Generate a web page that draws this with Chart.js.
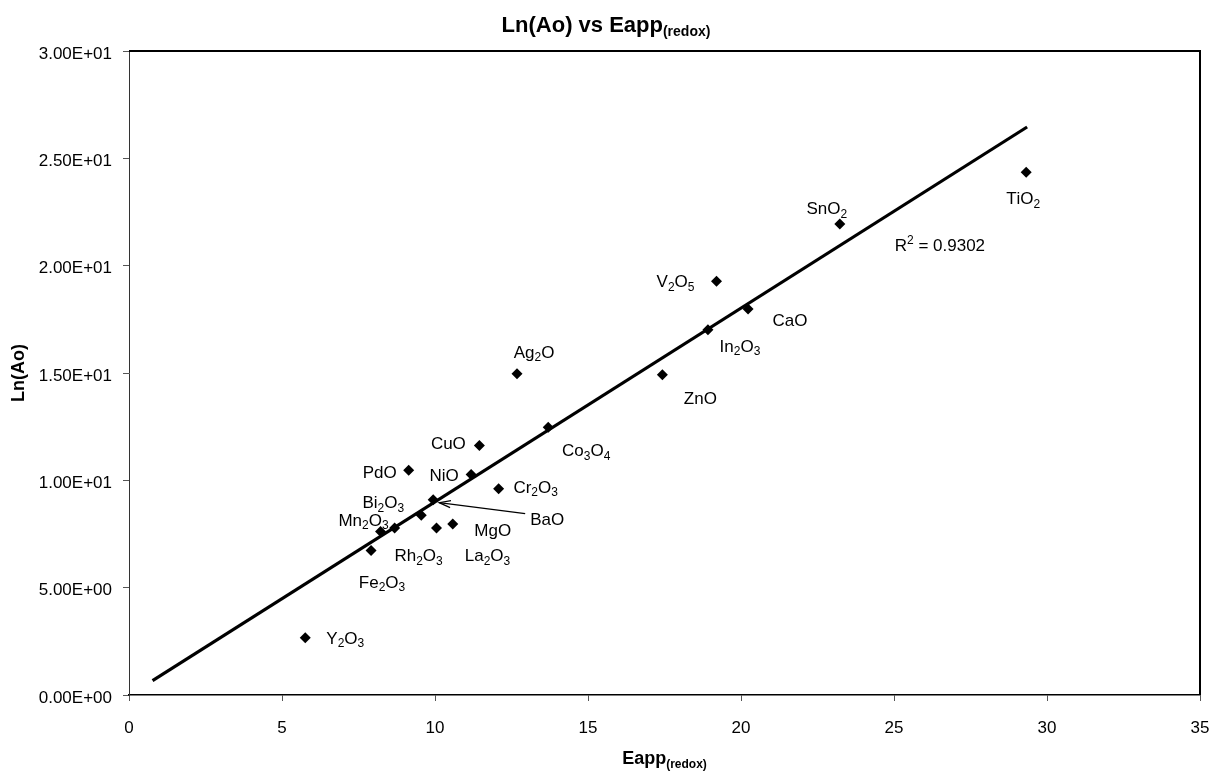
<!DOCTYPE html>
<html>
<head>
<meta charset="utf-8">
<script src="https://cdn.jsdelivr.net/npm/chart.js@4"></script>
<style>
  html, body { margin: 0; padding: 0; background: #fff; }
  #wrap { width: 1223px; height: 775px; }
</style>
</head>
<body>
<div id="wrap"><canvas id="chart" width="1223" height="775"></canvas></div>
<script>
// oxide names: "_" marks the next character as a subscript
const oxides = ['Y_2O_3','Fe_2O_3','Mn_2O_3','Rh_2O_3','Bi_2O_3','BaO','PdO','NiO','CuO','Cr_2O_3',
                'La_2O_3','MgO','Co_3O_4','Ag_2O','ZnO','In_2O_3','CaO','V_2O_5','SnO_2','TiO_2'];
const eapp = [5.76, 7.91, 8.22, 8.68, 9.55, 9.94, 9.14, 11.18, 11.45, 12.08,
              10.05, 10.58, 13.70, 12.68, 17.43, 18.92, 20.23, 19.20, 23.23, 29.32];
const lnAo = [2.67, 6.73, 7.62, 7.78, 8.37, 9.10, 10.47, 10.27, 11.62, 9.61,
              7.78, 7.97, 12.47, 14.97, 14.92, 17.02, 17.98, 19.27, 21.94, 24.35];
// linear trend line end points
const trendX = [0.77, 29.35];
const trendY = [0.67, 26.46];
const rSquared = '0.9302';

// where each label sits relative to its point (px)
const labelOffsets = [[40,0],[11,31],[-17,-12],[24,27],[-38,-13],[114,19],[-29,2],[-27,0],[-31,-3],[37,-2],
                      [51,27],[40,6],[38,23],[17,-22],[38,23],[32,16],[42,11],[-41,0],[-13,-16],[-3,26]];

const FONT = '"Liberation Sans", Arial, sans-serif';

function sci(v){
  const [m,e] = Number(v).toExponential(2).split('e');
  const n = parseInt(e,10);
  return m + 'E' + (n<0?'-':'+') + String(Math.abs(n)).padStart(2,'0');
}

// draw text with _x subscripts and ^x superscripts, centred on cx, middle at cy
function richText(ctx, str, cx, cy, size, bold, subSize){
  const parts = [];
  for(let i=0;i<str.length;i++){
    const c = str[i];
    if((c==='_'||c==='^') && i+1<str.length){ parts.push({t:str[i+1], k:c}); i++; }
    else parts.push({t:c, k:''});
  }
  const w = bold ? 'bold ' : '';
  const small = subSize || Math.round(size*0.68);
  let total = 0;
  parts.forEach(p=>{
    ctx.font = w + (p.k ? small : size) + 'px ' + FONT;
    p.w = ctx.measureText(p.t).width; total += p.w;
  });
  let x = cx - total/2;
  ctx.textAlign = 'left';
  ctx.textBaseline = 'alphabetic';
  const base = cy + size*0.36;
  parts.forEach(p=>{
    ctx.font = w + (p.k ? small : size) + 'px ' + FONT;
    let y = base;
    if(p.k==='_') y = base + size*0.2;
    if(p.k==='^') y = base - size*0.42;
    ctx.fillText(p.t, x, y);
    x += p.w;
  });
  return total;
}

const decorations = {
  id:'decorations',
  afterDraw(chart){
    const {ctx, chartArea:a, scales:{x, y}} = chart;
    ctx.save();
    ctx.fillStyle = '#000';
    // frame top and right
    ctx.strokeStyle = '#000'; ctx.lineWidth = 2;
    ctx.beginPath(); ctx.moveTo(a.left, a.top); ctx.lineTo(a.right, a.top); ctx.lineTo(a.right, a.bottom); ctx.stroke();
    // point labels
    oxides.forEach((name,i)=>{
      const px = x.getPixelForValue(eapp[i]), py = y.getPixelForValue(lnAo[i]);
      richText(ctx, name, px + labelOffsets[i][0], py + labelOffsets[i][1], 17, false);
    });
    // arrow to BaO
    const bi = oxides.indexOf('BaO');
    const bx = x.getPixelForValue(eapp[bi]), by = y.getPixelForValue(lnAo[bi]);
    const sx = bx + 92, sy = by + 14, tx = bx + 6, ty = by + 3;
    ctx.lineWidth = 1.2;
    ctx.beginPath(); ctx.moveTo(sx, sy); ctx.lineTo(tx, ty); ctx.stroke();
    const ang = Math.atan2(ty-sy, tx-sx);
    ctx.beginPath();
    ctx.moveTo(tx - 12*Math.cos(ang-0.3), ty - 12*Math.sin(ang-0.3));
    ctx.lineTo(tx, ty);
    ctx.lineTo(tx - 12*Math.cos(ang+0.3), ty - 12*Math.sin(ang+0.3));
    ctx.stroke();
    // R squared
    richText(ctx, 'R^2 = ' + rSquared, x.getPixelForValue(26.5), y.getPixelForValue(20.98), 17, false);
    // titles
    richText(ctx, 'Ln(Ao) vs Eapp_(_r_e_d_o_x_)', 606, 24, 22, true, 14);
    richText(ctx, 'Eapp_(_r_e_d_o_x_)', (a.left+a.right)/2, 758, 18, true, 12);
    ctx.save();
    ctx.translate(18, (a.top+a.bottom)/2);
    ctx.rotate(-Math.PI/2);
    richText(ctx, 'Ln(Ao)', 0, 0, 18, true);
    ctx.restore();
    ctx.restore();
  }
};

new Chart(document.getElementById('chart').getContext('2d'), {
  type:'scatter',
  data:{
    datasets:[
      { label:'Ln(Ao)', data:eapp.map((v,i)=>({x:v, y:lnAo[i]})),
        pointStyle:'rectRot', pointRadius:5.5, backgroundColor:'#000', borderColor:'#000', borderWidth:0 },
      { label:'Linear', data:trendX.map((v,i)=>({x:v, y:trendY[i]})), showLine:true,
        borderColor:'#000', borderWidth:3.2, pointRadius:0 }
    ]
  },
  options:{
    responsive:false, animation:false, devicePixelRatio:1,
    layout:{ padding:{ left:0, right:23, top:51, bottom:0 } },
    plugins:{ legend:{ display:false }, title:{ display:false }, tooltip:{ enabled:false } },
    scales:{
      x:{ type:'linear', min:0, max:35,
          ticks:{ stepSize:5, color:'#000', padding:17, font:{ family:FONT, size:17 } },
          grid:{ drawOnChartArea:false, drawTicks:true, tickLength:6, color:'#555' },
          border:{ color:'#000', width:1.5 },
          afterFit(s){ s.height = 80; s.paddingLeft = 0; s.paddingRight = 0; } },
      y:{ type:'linear', min:0, max:30,
          ticks:{ stepSize:5, color:'#000', padding:11, labelOffset:3, font:{ family:FONT, size:17 }, callback:v=>sci(v) },
          grid:{ drawOnChartArea:false, drawTicks:true, tickLength:6, color:'#555' },
          border:{ color:'#333', width:1 },
          afterFit(s){ s.width = 129; s.paddingTop = 0; s.paddingBottom = 0; } }
    }
  },
  plugins:[decorations]
});
</script>
</body>
</html>
